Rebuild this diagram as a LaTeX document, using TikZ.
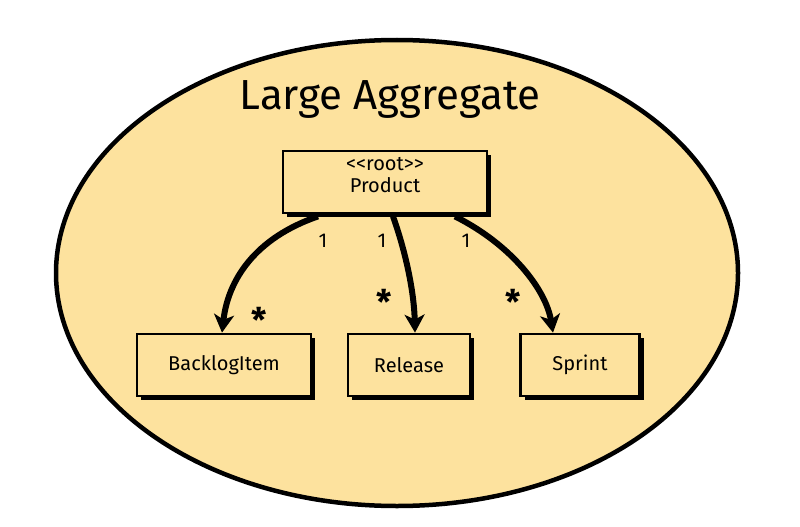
\documentclass[tikz,border=0pt]{standalone}
\usepackage{fontspec}
\setmainfont{Fira Sans}[Ligatures=NoCommon]
\usetikzlibrary{arrows.meta,shadows,shapes.geometric}
\definecolor{agg}{RGB}{253,226,158}
\tikzset{
  cls/.style={draw=black, line width=2.8pt, fill=agg, minimum height=62pt, font=\fontsize{20}{22}\selectfont,
    drop shadow={shadow xshift=4pt, shadow yshift=-4pt, fill=black, opacity=1}},
  assoc/.style={line width=6pt, -{Stealth[length=18pt,width=20pt,inset=5pt]}},
  mult/.style={font=\fontsize{20}{20}\selectfont},
  star/.style={font=\fontsize{34}{34}\selectfont\bfseries}
}
\begin{document}
\begin{tikzpicture}[x=1pt,y=-1pt]
\useasboundingbox (0,0) rectangle (800,527);
\node[draw=black, line width=4.5pt, fill=agg, ellipse, minimum width=682pt, minimum height=466pt] (agg) at (397,273) {};
\node[font=\fontsize{42}{42}\selectfont] (title) at (390,100) {Large Aggregate};
\node[cls, minimum width=204pt, align=center, font=\fontsize{20}{22}\selectfont] (prod) at (385,182) {<{}<root>{}>\\Product\\[-8pt]\mbox{}};
\node[cls, minimum width=174pt] (bi) at (224,365) {BacklogItem};
\node[cls, minimum width=122pt] (rel) at (409,365) {Release};
\node[cls, minimum width=119pt] (spr) at (580,365) {Sprint};
\draw[assoc] ([xshift=-67pt,yshift=-2pt]prod.south) .. controls (255,238) and (228,280) .. ([xshift=-2pt]bi.north);
\draw[assoc] ([xshift=8pt,yshift=-2pt]prod.south) .. controls (405,250) and (414,290) .. ([xshift=6pt]rel.north);
\draw[assoc] ([xshift=70pt,yshift=-2pt]prod.south) .. controls (512,245) and (546,290) .. ([xshift=-27pt]spr.north);
\node[mult] (m1) at (323,241) {1};
\node[mult] (m2) at (382,241) {1};
\node[mult] (m3) at (466,241) {1};
\node[star] (s1) at (259,320) {*};
\node[star] (s2) at (384,302) {*};
\node[star] (s3) at (513,302) {*};
\end{tikzpicture}
\end{document}
